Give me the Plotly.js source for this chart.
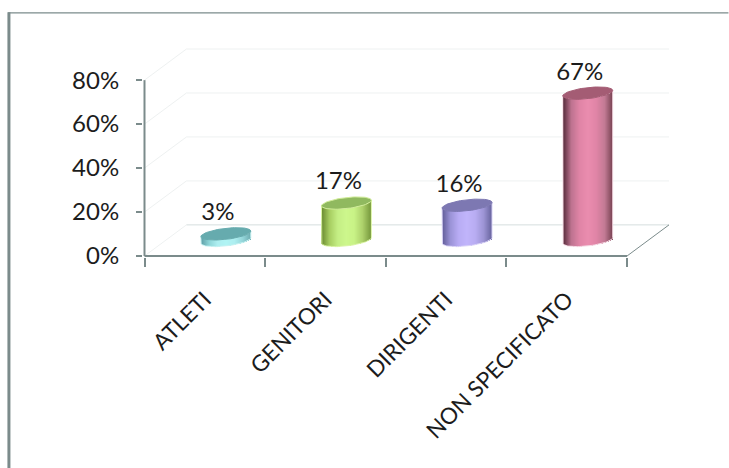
<!DOCTYPE html>
<html>
<head>
<meta charset="utf-8">
<script src="https://cdn.plot.ly/plotly-3.0.1.min.js"></script>
<style>html,body{margin:0;padding:0;background:#fff}</style>
</head>
<body>
<div id="chart"></div>
<script>
// Chart data
const categories = ['ATLETI', 'GENITORI', 'DIRIGENTI', 'NON SPECIFICATO'];
const shares = [3, 17, 16, 67];
const yTicks = [0, 20, 40, 60, 80];

// Cylinder colours: gradient stops from left edge to right edge, lid and outline
const bodyStops = [
  ['#5f9ea6', '#8ed6d8', '#aeeef0', '#b0f4f4', '#aeeef0', '#94d6da', '#6aa9ae'],
  ['#64852c', '#a6cc60', '#c4ee84', '#cdf78c', '#c8f286', '#acd06a', '#76983c'],
  ['#5f5b96', '#9a92d6', '#b8acf4', '#c0b4fb', '#b8acf2', '#9c94d4', '#66629c'],
  ['#552a39', '#bd7390', '#e084a6', '#ea8cae', '#e084a6', '#c27a94', '#74404f']
];
const lidColors = ['#66abae', '#90b95f', '#7d78b2', '#a45c74'];
const lidEdges = ['#66abae', '#d0ec98', '#7d78b2', '#a45c74'];
const outlineColors = ['#c8f2f2', '#dcf5a8', '#dcd6f8', '#f6dce6'];

// Pixel scale of the plotting box and the oblique depth of the 3D frame
const pxPerCat = 120.75, pxPerPct = 2.19;
const originX = 144.5, originY = 255.7;
const depthX = 42 / pxPerCat, depthY = 31 / pxPerPct;
const padX = 1.5, padY = 1;
const halfW = 25 / pxPerCat, lidB = 5.5 / pxPerPct, lidTilt = 2.75 / pxPerPct;
const floorY = depthY / 2, shiftX = depthX / 2;

const xMin = -0.5 - padX / pxPerCat, xMax = 3.5 + depthX + 2 / pxPerCat;
const yMin = -padY / pxPerPct, yMax = 80 + depthY + 2 / pxPerPct;

function hexMix(a, b, t) {
  const p = h => [1, 3, 5].map(i => parseInt(h.substr(i, 2), 16));
  const A = p(a), B = p(b);
  return 'rgb(' + A.map((v, i) => Math.round(v + (B[i] - v) * t)).join(',') + ')';
}
function shade(stops, u) {
  const f = (u + 1) / 2 * (stops.length - 1);
  const i = Math.min(Math.floor(f), stops.length - 2);
  return hexMix(stops[i], stops[i + 1], f - i);
}

// Body: overlapping one-pixel bar strips, each raised along the elliptical base
const traces = [];
const strips = 50;
const pitch = 2 * halfW / strips;
for (let k = 0; k < strips; k++) {
  const u = -1 + (2 * k + 1) / strips;
  const lift = -lidB * Math.sqrt(1 - u * u) + lidTilt * u;
  traces.push({
    type: 'bar',
    x: categories.map((_, i) => i + shiftX + u * halfW + (k < strips - 1 ? pitch / 2 : 0)),
    y: shares,
    base: shares.map(() => floorY + lift),
    width: k < strips - 1 ? pitch * 2 : pitch,
    marker: { color: bodyStops.map(s => shade(s, u)), line: { width: 0 } },
    hoverinfo: 'skip', showlegend: false
  });
}

// Outline and lid of each cylinder
const ts = Array.from({ length: 73 }, (_, j) => j * 2 * Math.PI / 72);
shares.forEach((v, i) => {
  const cx = i + shiftX, lidY = floorY + v;
  const arc = ts.filter(t => t >= Math.PI).map(t => [cx + halfW * Math.cos(t),
    floorY + lidB * Math.sin(t) + lidTilt * Math.cos(t)]);
  const pts = [[cx - halfW, lidY - lidTilt]].concat(arc, [[cx + halfW, lidY + lidTilt]]);
  traces.push({
    type: 'scatter', mode: 'lines',
    x: pts.map(p => p[0]), y: pts.map(p => p[1]),
    line: { color: outlineColors[i], width: 1 },
    hoverinfo: 'skip', showlegend: false
  });
  traces.push({
    type: 'scatter', mode: 'lines', fill: 'toself', fillcolor: lidColors[i],
    x: ts.map(t => cx + halfW * Math.cos(t)),
    y: ts.map(t => lidY + lidB * Math.sin(t) + lidTilt * Math.cos(t)),
    line: { color: lidEdges[i], width: 1 },
    hoverinfo: 'skip', showlegend: false
  });
});

// Value labels above each lid
traces.push({
  type: 'scatter', mode: 'text',
  x: shares.map((_, i) => i + shiftX - 8 / pxPerCat),
  y: shares.map(v => floorY + v + 19.5 / pxPerPct),
  text: shares.map(v => v + '%'),
  textposition: 'middle center',
  textfont: { family: 'Lato, sans-serif', size: 24, color: '#1c1c1c' },
  cliponaxis: false, hoverinfo: 'skip', showlegend: false
});

// Back wall, floor and axis lines
const faint = { color: '#eef1f1', width: 1 };
const axisLine = { color: '#7b8b8b', width: 2 };
const seg = (x0, y0, x1, y1, line) => ({ type: 'line', xref: 'x', yref: 'y', layer: 'below', x0, y0, x1, y1, line });
const shapes = [];
yTicks.forEach(v => {
  const line = v === 0 ? { color: '#d5dede', width: 1 } : faint;
  shapes.push(seg(-0.5, v, -0.5 + depthX, v + depthY, faint));
  shapes.push(seg(-0.5 + depthX, v + depthY, 3.5 + depthX, v + depthY, line));
});
shapes.push(seg(3.5, 0, 3.5 + depthX, depthY, { color: '#7b8b8b', width: 1 }));
shapes.push(seg(-0.5, 0, 3.5, 0, axisLine));
shapes.push(seg(-0.5, 0, -0.5, 80, axisLine));

// Page frame on the left and top edges
const W = 729, H = 468;
const boxLeft = originX + (xMin + 0.5) * pxPerCat;
const boxRight = boxLeft + (xMax - xMin) * pxPerCat;
const boxBottom = originY - yMin * pxPerPct;
const boxTop = boxBottom - (yMax - yMin) * pxPerPct;
const px = x => (x - boxLeft) / (boxRight - boxLeft);
const py = y => (boxBottom - y) / (boxBottom - boxTop);
const frame = { color: '#7b8b8b', width: 3 };
shapes.push({ type: 'line', xref: 'paper', yref: 'paper', x0: px(8.8), x1: px(8.8), y0: py(13), y1: py(468), line: frame });
shapes.push({ type: 'line', xref: 'paper', yref: 'paper', x0: px(8), x1: px(729), y0: py(13.5), y1: py(13.5), line: { color: '#7b8b8b', width: 1.2 } });

const layout = {
  width: W, height: H,
  margin: { l: boxLeft, r: W - boxRight, t: boxTop, b: H - boxBottom, pad: 0 },
  paper_bgcolor: '#fff', plot_bgcolor: '#fff',
  showlegend: false, barmode: 'overlay', bargap: 0, bargroupgap: 0, hovermode: false,
  xaxis: {
    type: 'linear', range: [xMin, xMax], showgrid: false, zeroline: false, showline: false,
    tickmode: 'array', tickvals: categories.map((_, i) => i), ticktext: categories,
    ticks: '', tickangle: -45, ticklabelstandoff: 24,
    tickfont: { family: 'Lato, sans-serif', size: 22.5, color: '#1c1c1c' },
    minor: {
      tickmode: 'array', tickvals: [-0.5, 0.5, 1.5, 2.5, 3.5],
      ticks: 'outside', ticklen: 9, tickwidth: 2, tickcolor: '#7b8b8b', showgrid: false
    }
  },
  yaxis: {
    range: [yMin, yMax], showgrid: false, zeroline: false, showline: false,
    tickmode: 'array', tickvals: yTicks, ticktext: yTicks.map(v => v + '%'),
    ticks: 'outside', ticklen: 6, tickwidth: 2, tickcolor: '#7b8b8b', ticklabelstandoff: 12,
    tickfont: { family: 'Lato, sans-serif', size: 24, color: '#1c1c1c' }
  },
  shapes
};

Plotly.newPlot('chart', traces, layout, { staticPlot: true, displayModeBar: false });
</script>
</body>
</html>
